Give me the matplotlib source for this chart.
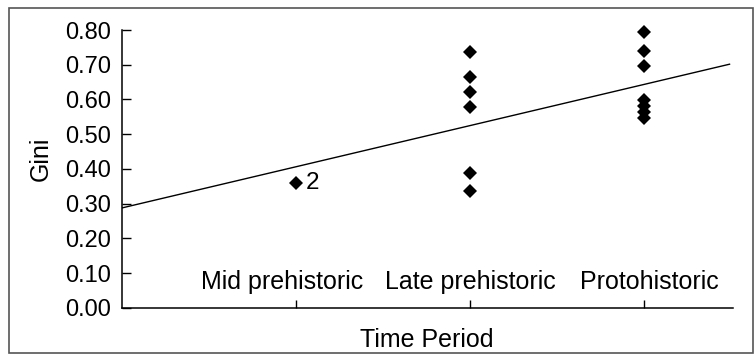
import matplotlib
matplotlib.use("Agg")
import matplotlib.pyplot as plt
from matplotlib.patches import Rectangle
import numpy as np

plt.rcParams["font.family"] = ["Liberation Sans", "DejaVu Sans"]

# data
periods = ["Mid prehistoric", "Late prehistoric", "Protohistoric"]
mid_gini = [0.36]
late_gini = [0.738, 0.666, 0.622, 0.578, 0.388, 0.338]
proto_gini = [0.795, 0.740, 0.697, 0.599, 0.581, 0.564, 0.547]
mid_count_label = "2"
trend_intercept = 0.288
trend_slope = 0.1185
yticks = np.arange(0, 0.81, 0.1)

fig = plt.figure(figsize=(7.56, 3.58), dpi=100)
ax = fig.add_axes([0.1614, 0.1397, 0.8082, 0.7765])

groups = [mid_gini, late_gini, proto_gini]
for i, vals in enumerate(groups, start=1):
    ax.plot([i] * len(vals), vals, linestyle="none", marker="D",
            markersize=7.6, color="black", markeredgewidth=0, clip_on=False)

ax.annotate(mid_count_label, (1, mid_gini[0]), xytext=(7, 0),
            textcoords="offset points", va="center", ha="left", fontsize=17.5)

tx = np.array([0, 3.49])
ax.plot(tx, trend_intercept + trend_slope * tx, color="black", lw=1.0)

ax.set_xlim(0, 3.51)
ax.set_ylim(0, 0.8)
ax.set_yticks(yticks)
ax.set_yticklabels([f"{v:.2f}" for v in yticks], fontsize=17)
ax.set_xticks([1, 2, 3])
ax.set_xticklabels([])

# category names sit inside the axes, just above the x axis
label_shift = [-10, 0, 4]
for i, (name, dx) in enumerate(zip(periods, label_shift), start=1):
    ax.annotate(name, (i, 0), xytext=(dx, 13.7), textcoords="offset points",
                ha="center", va="baseline", fontsize=18)

ax.tick_params(axis="y", direction="in", length=6.5, width=1, pad=8)
ax.tick_params(axis="x", direction="in", length=5.5, width=1)

for s in ["top", "right"]:
    ax.spines[s].set_visible(False)
for s in ["left", "bottom"]:
    ax.spines[s].set_linewidth(1.1)

fig.text(0.054, 0.556, "Gini", rotation=90, ha="center", va="center", fontsize=18)
fig.text(0.564, 0.032, "Time Period", ha="center", va="baseline", fontsize=18)

fig.patches.append(Rectangle((9 / 756, 5 / 358), 744 / 756, 345 / 358,
                             transform=fig.transFigure, fill=False,
                             edgecolor="#555555", lw=1.2))

fig.savefig("out.png", dpi=100)
